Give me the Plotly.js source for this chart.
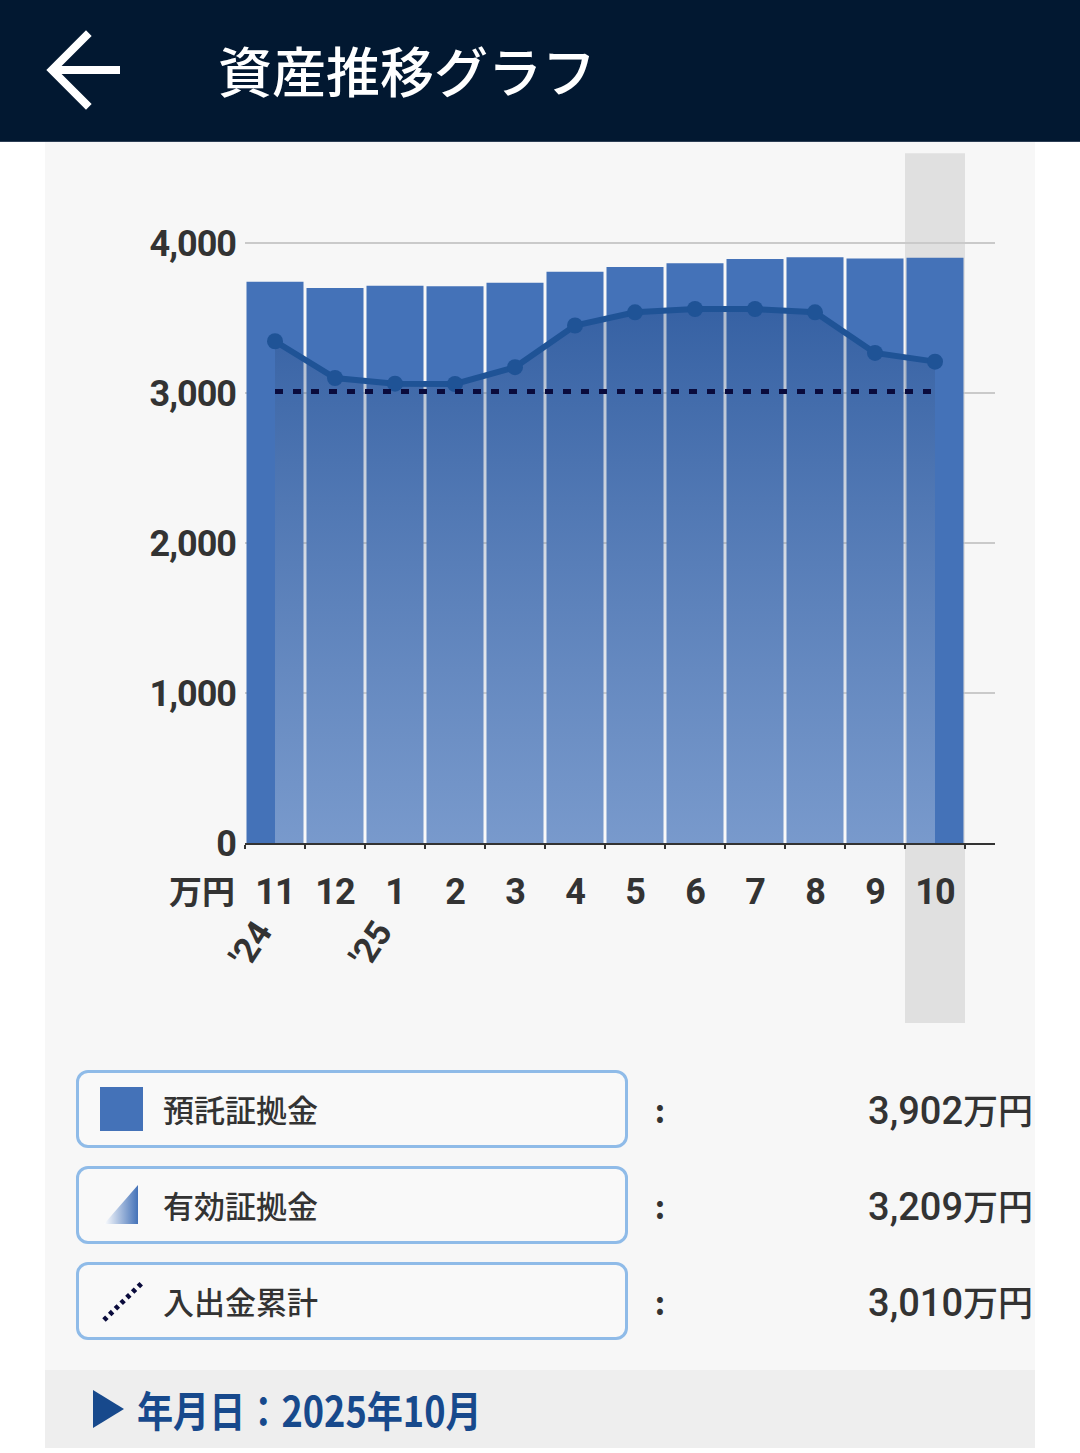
<!DOCTYPE html>
<html>
<head>
<meta charset="utf-8">
<script src="https://cdn.plot.ly/plotly-3.0.1.min.js"></script>
<style>
  html, body { margin: 0; padding: 0; background: #ffffff; width: 1080px; height: 1453px; overflow: hidden; position: relative; font-family: "Noto Sans CJK JP", "Roboto", sans-serif; }
  #header { position: absolute; left: 0; top: 0; width: 1080px; height: 141px; background: #021831; border-bottom: 1px solid #2c3e55; }
  #header .title { position: absolute; left: 218px; top: 34px; font-size: 54px; line-height: 72px; color: #ffffff; font-weight: 500; letter-spacing: 0px; }
  #arrow { position: absolute; left: 42px; top: 28px; }
  #card { position: absolute; left: 45px; top: 142px; width: 990px; height: 1228px; background: #f7f7f7; }
  #chart { position: absolute; left: 45px; top: 142px; width: 990px; height: 900px; }
  .lg { position: absolute; left: 76px; width: 546px; height: 72px; border: 3px solid #8fbbe8; border-radius: 12px; background: #f9f9f9; }
  .lg .lbl { position: absolute; left: 84px; top: 0; line-height: 72px; font-size: 31px; color: #333; font-weight: 500; }
  .lg .ico { position: absolute; left: 21px; top: 14px; }
  .colon { position: absolute; left: 650px; width: 20px; text-align: center; font-size: 32px; color: #333; font-weight: 700; line-height: 78px; }
  .val { position: absolute; right: 47px; font-size: 38px; color: #333; line-height: 78px; font-weight: 500; font-family: "Roboto", "Noto Sans CJK JP", sans-serif; }
  .val .u { font-family: "Noto Sans CJK JP", sans-serif; font-size: 35px; }
  #band { position: absolute; left: 45px; top: 1370px; width: 990px; height: 78px; background: #eeeeee; }
  #band .tri { position: absolute; left: 48px; top: 20px; width: 0; height: 0; border-top: 19px solid transparent; border-bottom: 19px solid transparent; border-left: 31px solid #17498c; }
  #band .txt { position: absolute; left: 92px; top: 0; line-height: 78px; font-size: 42px; color: #17498c; font-weight: 700; transform: scaleX(0.86); transform-origin: 0 50%; white-space: nowrap; }
  .xtick text, .ytick text { letter-spacing: -1px; }
</style>
</head>
<body>
<div id="header">
  <svg id="arrow" width="90" height="86" viewBox="0 0 90 86">
    <polyline points="44,8 10,42 44,76" fill="none" stroke="#ffffff" stroke-width="8" stroke-linecap="square" stroke-linejoin="miter"/>
    <line x1="12" y1="42" x2="78" y2="42" stroke="#ffffff" stroke-width="8"/>
  </svg>
  <div class="title">資産推移グラフ</div>
</div>
<div id="card"></div>
<div id="chart"></div>
<div id="legend"></div>
<div id="band"><div class="tri"></div><div class="txt" id="dateText"></div></div>

<script>
// ---- data ----
var months = ['11', '12', '1', '2', '3', '4', '5', '6', '7', '8', '9', '10'];
var yearCats = ['11', '1'];
var yearLabels = ["'24", "'25"];
var deposit = [3742, 3700, 3715, 3712, 3735, 3808, 3840, 3865, 3893, 3905, 3897, 3902];      // 預託証拠金
var effective = [3345, 3100, 3062, 3060, 3172, 3450, 3538, 3560, 3560, 3538, 3267, 3209];    // 有効証拠金
var cumulative = [3010, 3010, 3010, 3010, 3010, 3010, 3010, 3010, 3010, 3010, 3010, 3010];   // 入出金累計
var yTicks = [0, 1000, 2000, 3000, 4000];
var seriesNames = ['預託証拠金', '有効証拠金', '入出金累計'];
var unitLabel = '万円';
var selectedLabel = '年月日：2025年10月';

// ---- chart ----
var tickFont = { family: 'Roboto, sans-serif', size: 36, color: '#333333', weight: 'bold' };

var traces = [
  {
    type: 'bar', x: months, y: deposit, name: seriesNames[0],
    marker: { color: '#4472b8', line: { width: 0 } },
    hoverinfo: 'skip'
  },
  {
    type: 'scatter', mode: 'lines+markers', x: months, y: effective, name: seriesNames[1],
    line: { color: '#1f5396', width: 6 },
    marker: { color: '#1f5396', size: 16 },
    fill: 'tozeroy',
    fillgradient: {
      type: 'vertical',
      start: 0,
      stop: Math.max.apply(null, effective),
      colorscale: [[0, 'rgba(255,255,255,0.28)'], [1, 'rgba(25,62,120,0.32)']]
    },
    hoverinfo: 'skip'
  },
  {
    type: 'scatter', mode: 'lines', x: months, y: cumulative, name: seriesNames[2],
    line: { color: '#0a0b3c', width: 5, dash: '8px,10px' },
    hoverinfo: 'skip'
  }
];

var annotations = [
  {
    xref: 'paper', yref: 'paper', x: 0, y: 0, xanchor: 'right', yanchor: 'middle',
    xshift: -8, yshift: -47, text: unitLabel, showarrow: false,
    font: { family: '"Noto Sans CJK JP", sans-serif', size: 33, color: '#333333', weight: 'bold' }
  }
];
for (var i = 0; i < yearCats.length; i++) {
  annotations.push({
    xref: 'x', yref: 'paper', x: months.indexOf(yearCats[i]), y: 0, xanchor: 'center', yanchor: 'middle',
    xshift: -24, yshift: -101, textangle: -57, text: yearLabels[i], showarrow: false,
    font: { family: 'Roboto, sans-serif', size: 35, color: '#333333', weight: 'bold' }
  });
}

var layout = {
  width: 990, height: 900,
  margin: { l: 200, r: 40, t: 98, b: 199 },
  paper_bgcolor: 'rgba(0,0,0,0)',
  plot_bgcolor: 'rgba(0,0,0,0)',
  showlegend: false,
  bargap: 0.05,
  hovermode: false,
  xaxis: {
    type: 'category',
    categoryorder: 'array', categoryarray: months,
    range: [-0.5, 12],
    tickson: 'boundaries',
    ticks: 'outside', ticklen: 4, tickwidth: 2, tickcolor: '#333333',
    showgrid: false,
    showline: true, linecolor: '#333333', linewidth: 2,
    layer: 'below traces',
    tickfont: tickFont,
    ticklabelstandoff: 16,
    fixedrange: true
  },
  yaxis: {
    range: [0, 4020],
    tickvals: yTicks,
    tickformat: ',d',
    showgrid: true, gridcolor: '#cacaca', gridwidth: 2.5,
    zeroline: false, showline: false, ticks: '',
    tickfont: tickFont,
    ticklabelstandoff: 8,
    fixedrange: true
  },
  shapes: [
    {
      type: 'rect', xref: 'x', yref: 'paper', layer: 'below',
      x0: months.length - 1.5, x1: months.length - 0.5, y0: -0.2985, y1: 1.144,
      fillcolor: '#e0e0e0', line: { width: 0 }
    }
  ],
  annotations: annotations
};

Plotly.newPlot('chart', traces, layout, { staticPlot: true, displayModeBar: false });

// ---- legend (HTML) ----
var last = function (arr) { return arr[arr.length - 1]; };
var values = [last(deposit), last(effective), last(cumulative)];
var icons = [
  '<svg width="44" height="44"><rect x="0" y="0" width="43" height="44" fill="#4472b8"/></svg>',
  '<svg width="44" height="44"><defs><linearGradient id="tg" x1="0" y1="0" x2="1" y2="0"><stop offset="0" stop-color="#ffffff"/><stop offset="1" stop-color="#4472b8"/></linearGradient></defs><polygon points="4,41 38,2 38,41" fill="url(#tg)"/></svg>',
  '<svg width="48" height="44"><line x1="4" y1="41" x2="44" y2="2" stroke="#0a0b3c" stroke-width="5" stroke-dasharray="4,4"/></svg>'
];
var tops = [1070, 1166, 1262];
var html = '';
for (var k = 0; k < 3; k++) {
  html += '<div class="lg" style="top:' + tops[k] + 'px"><div class="ico">' + icons[k] + '</div><div class="lbl">' + seriesNames[k] + '</div></div>';
  html += '<div class="colon" style="top:' + tops[k] + 'px">:</div>';
  html += '<div class="val" style="top:' + tops[k] + 'px">' + values[k].toLocaleString('en-US') + '<span class="u">' + unitLabel + '</span></div>';
}
document.getElementById('legend').innerHTML = html;
document.getElementById('dateText').textContent = selectedLabel;
</script>
</body>
</html>
